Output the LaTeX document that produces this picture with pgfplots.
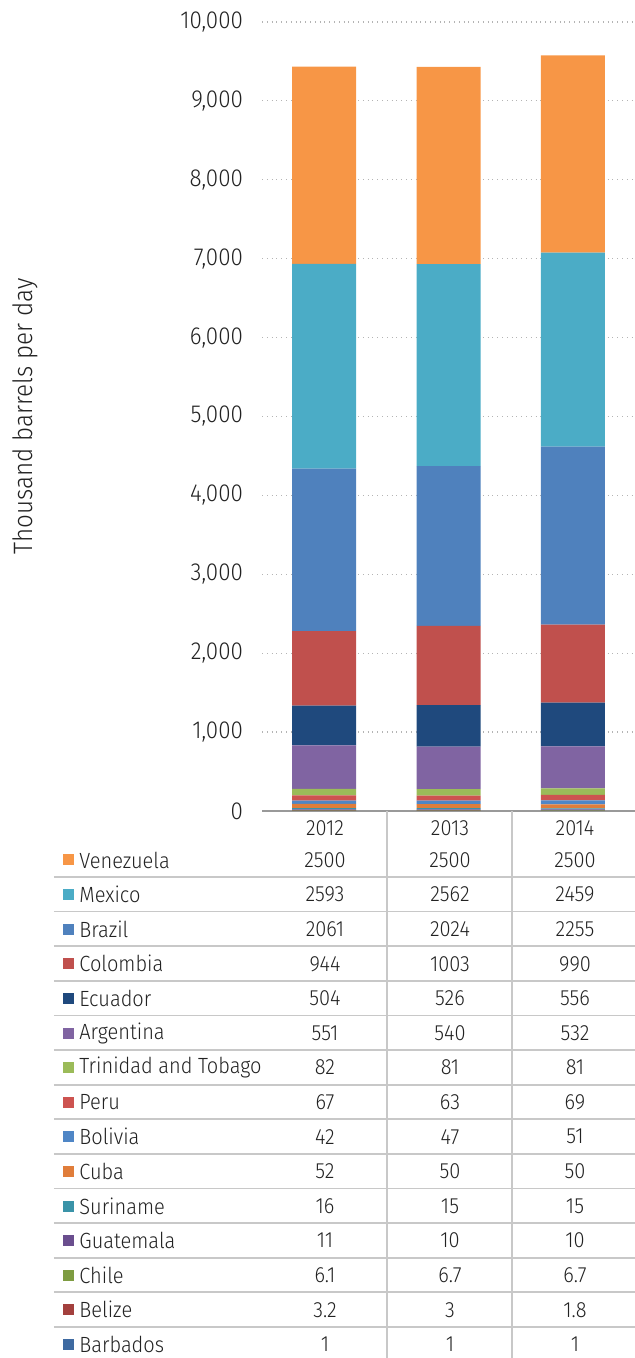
\documentclass[border=0pt]{standalone}
\usepackage{pgfplots}
\usepackage{pgfplotstable}
\pgfplotsset{compat=1.18}
\usepackage{fontspec}
\setmainfont{Fira Sans Light}[FakeStretch=0.91]
\definecolor{cVen}{HTML}{F79646}
\definecolor{cMex}{HTML}{4BACC6}
\definecolor{cBra}{HTML}{4F81BD}
\definecolor{cCol}{HTML}{C0504D}
\definecolor{cEcu}{HTML}{1F497D}
\definecolor{cArg}{HTML}{8064A2}
\definecolor{cTri}{HTML}{9BBB59}
\definecolor{cPer}{HTML}{CD5350}
\definecolor{cBol}{HTML}{4F86C6}
\definecolor{cCub}{HTML}{E07D3A}
\definecolor{cSur}{HTML}{3A93A8}
\definecolor{cGua}{HTML}{6A4E8E}
\definecolor{cChi}{HTML}{7E9C41}
\definecolor{cBel}{HTML}{A3403D}
\definecolor{cBar}{HTML}{3E6AA1}
\definecolor{txt}{HTML}{222222}
\definecolor{tline}{HTML}{C8C8C8}
\definecolor{grid}{HTML}{B4B4B4}

\pgfplotstableread{
x Barbados Belize Chile Guatemala Suriname Cuba Bolivia Peru Trinidad Argentina Ecuador Colombia Brazil Mexico Venezuela
0 1 3.2 6.1 11 16 52 42 67 82 551 504 944 2061 2593 2500
1 1 3 6.7 10 15 50 47 63 81 540 526 1003 2024 2562 2500
2 1 1.8 6.7 10 15 50 51 69 81 532 556 990 2255 2459 2500
}\data

\begin{document}
\begin{tikzpicture}[font=\fontsize{11}{13}\selectfont, text=txt]
\useasboundingbox (-131pt,405.5pt) rectangle (186.5pt,-273.5pt);
\begin{axis}[
  at={(0,0)}, anchor=south west, scale only axis,
  width=186.5pt, height=394.5pt,
  xmin=-0.5, xmax=2.5, ymin=0, ymax=10000,
  enlargelimits=false,
  ybar stacked, bar width=32pt,
  axis lines*=left,
  y axis line style={draw=none},
  x axis line style={draw=gray!80, line width=1pt, -},
  xtick=\empty,
  ytick={0,1000,...,10000},
  scaled y ticks=false,
  tick style={draw=none},
  ymajorgrids,
  major grid style={dotted, color=grid, line width=0.6pt},
  yticklabel={\pgfmathprintnumber[assume math mode=true,1000 sep={,}]{\tick}},
  yticklabel style={xshift=-6pt, text=txt, inner ysep=1pt, font=\fontsize{12.3}{14}\selectfont},
  clip=false,
]
\addplot[fill=cBar, draw=none] table[x=x,y=Barbados]{\data};
\addplot[fill=cBel, draw=none] table[x=x,y=Belize]{\data};
\addplot[fill=cChi, draw=none] table[x=x,y=Chile]{\data};
\addplot[fill=cGua, draw=none] table[x=x,y=Guatemala]{\data};
\addplot[fill=cSur, draw=none] table[x=x,y=Suriname]{\data};
\addplot[fill=cCub, draw=none] table[x=x,y=Cuba]{\data};
\addplot[fill=cBol, draw=none] table[x=x,y=Bolivia]{\data};
\addplot[fill=cPer, draw=none] table[x=x,y=Peru]{\data};
\addplot[fill=cTri, draw=none] table[x=x,y=Trinidad]{\data};
\addplot[fill=cArg, draw=none] table[x=x,y=Argentina]{\data};
\addplot[fill=cEcu, draw=none] table[x=x,y=Ecuador]{\data};
\addplot[fill=cCol, draw=none] table[x=x,y=Colombia]{\data};
\addplot[fill=cBra, draw=none] table[x=x,y=Brazil]{\data};
\addplot[fill=cMex, draw=none] table[x=x,y=Mexico]{\data};
\addplot[fill=cVen, draw=none] table[x=x,y=Venezuela]{\data};
\end{axis}
\begin{scope}[x=0.5pt,y=0.5pt]
\node[rotate=90, font=\fontsize{13.3}{15}\selectfont] at (-237,394.5) {Thousand barrels per day};
\foreach \i in {0,...,13}{
  \pgfmathsetmacro\yl{-66-34.6*\i}
  \draw[tline, line width=0.9pt] (-208,\yl) -- (373,\yl);
}
\draw[tline, line width=0.9pt] (125,0) -- (125,-547);
\draw[tline, line width=0.9pt] (250,0) -- (250,-547);
\node at (63,-17) {2012};
\node at (188,-17) {2013};
\node at (313,-17) {2014};
\foreach \i/\name/\col/\a/\b/\c in {
 0/Venezuela/cVen/2500/2500/2500,
 1/Mexico/cMex/2593/2562/2459,
 2/Brazil/cBra/2061/2024/2255,
 3/Colombia/cCol/944/1003/990,
 4/Ecuador/cEcu/504/526/556,
 5/Argentina/cArg/551/540/532,
 6/Trinidad and Tobago/cTri/82/81/81,
 7/Peru/cPer/67/63/69,
 8/Bolivia/cBol/42/47/51,
 9/Cuba/cCub/52/50/50,
 10/Suriname/cSur/16/15/15,
 11/Guatemala/cGua/11/10/10,
 12/Chile/cChi/6.1/6.7/6.7,
 13/Belize/cBel/3.2/3/1.8,
 14/Barbados/cBar/1/1/1}{
  \pgfmathsetmacro\yy{-49-34.6*\i}
  \fill[\col] (-199,\yy-5.5) rectangle (-188,\yy+5.5);
  \node[anchor=west, inner sep=0pt] at (-183,\yy) {\name};
  \node at (63,\yy) {\a};
  \node at (188,\yy) {\b};
  \node at (313,\yy) {\c};
}
\end{scope}
\end{tikzpicture}
\end{document}
